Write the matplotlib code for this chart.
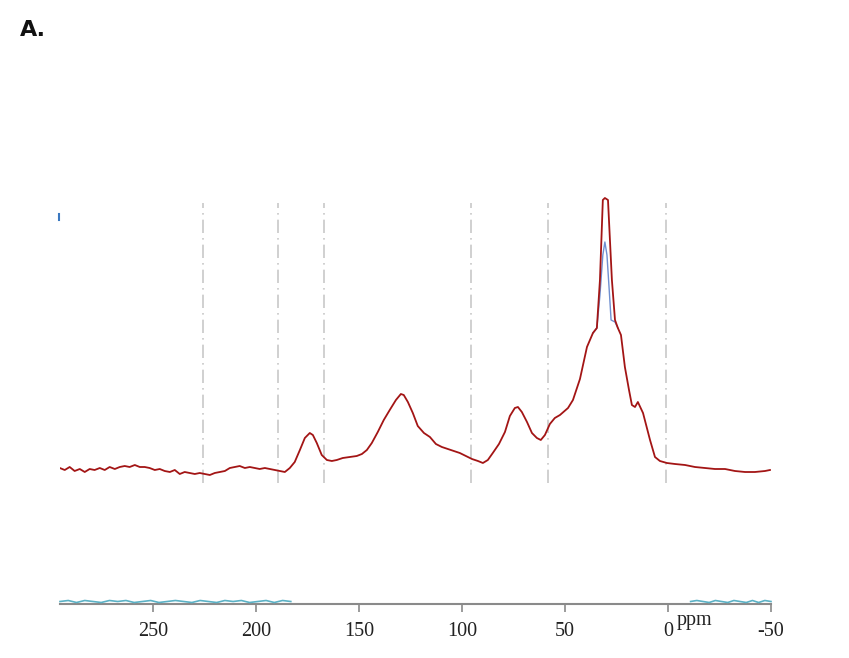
import matplotlib
matplotlib.use("Agg")
import matplotlib.pyplot as plt

# ---- data ----
ppm = [295.1, 292.7, 290.3, 287.9, 285.4, 283.0, 280.6, 278.2, 275.7, 273.3,
       270.9, 268.4, 266.0, 263.6, 261.2, 258.7, 256.3, 253.9, 251.5, 249.0,
       246.6, 244.2, 241.7, 239.3, 236.9, 234.5, 232.0, 229.6, 227.2, 224.8,
       222.3, 219.9, 217.5, 215.0, 212.6, 210.2, 207.8, 205.3, 202.9, 200.5,
       198.1, 195.6, 193.2, 190.8, 188.3, 185.9, 183.5, 181.1, 178.6, 176.2,
       173.8, 172.3, 170.4, 168.0, 165.5, 163.1, 160.7, 157.8, 154.4, 151.0,
       148.5, 146.1, 143.7, 140.8, 137.9, 135.0, 132.0, 129.6, 128.2, 126.2,
       123.8, 121.4, 118.4, 115.5, 112.6, 109.7, 106.8, 103.9, 101.0, 98.1,
       95.1, 92.2, 89.8, 87.4, 85.0, 82.0, 79.1, 76.7, 74.3, 72.8,
       70.9, 68.4, 66.0, 63.6, 61.7, 59.7, 57.3, 54.9, 52.4, 48.5,
       46.1, 42.7, 39.3, 36.4, 34.5, 33.0, 31.6, 30.6, 29.1, 27.2,
       25.7, 24.3, 22.8, 20.9, 18.9, 17.5, 16.0, 14.6, 12.1, 8.7,
       6.3, 3.9, 0.5, -3.4, -8.3, -13.1, -18.0, -22.8, -27.7, -32.5,
       -37.4, -42.2, -47.1, -49.5]
intensity = [2, 0, 3, -1, 1, -2, 1, 0, 2, 0,
             3, 1, 3, 4, 3, 5, 3, 3, 2, 0,
             1, -1, -2, 0, -4, -2, -3, -4, -3, -4,
             -5, -3, -2, -1, 2, 3, 4, 2, 3, 2,
             1, 2, 1, 0, -1, -2, 2, 8, 20, 32,
             37, 35, 27, 15, 10, 9, 10, 12, 13, 14,
             16, 20, 27, 38, 50, 60, 70, 76, 75, 68,
             57, 44, 37, 33, 26, 23, 21, 19, 17, 14,
             11, 9, 7, 10, 17, 26, 38, 54, 62, 63,
             58, 48, 37, 32, 30, 35, 46, 52, 55, 62,
             70, 91, 123, 137, 142, 190, 270, 272, 270, 190,
             150, 142, 135, 103, 80, 65, 63, 68, 57, 30,
             13, 9, 7, 6, 5, 3, 2, 1, 1, -1,
             -2, -2, -1, 0]

fit_ppm = [36.4, 34.5, 33.0, 31.6, 30.6, 29.6, 28.5, 27.6, 25.7, 24.3]
fit_int = [137, 142, 175, 215, 228, 215, 180, 150, 148, 142]

resid_left_ppm = [295, 291, 287, 283, 279, 275, 271, 267, 263, 259, 255, 251, 247, 243,
                  239, 235, 231, 227, 223, 219, 215, 211, 207, 203, 199, 195, 191, 187, 183]
resid_left = [0, 1, -1, 1, 0, -1, 1, 0, 1, -1, 0, 1, -1, 0, 1, 0, -1, 1, 0, -1,
              1, 0, 1, -1, 0, 1, -1, 1, 0]
resid_right_ppm = [-11, -14, -17, -20, -23, -26, -29, -32, -35, -38, -41, -44, -47, -50]
resid_right = [0, 1, 0, -1, 1, 0, -1, 1, 0, -1, 1, -1, 1, 0]
resid_offset = -131.5

region_lines = [225.7, 189.3, 167.0, 95.6, 58.3, 1.0]
tick_vals = [250, 200, 150, 100, 50, 0, -50]
tick_labels = ["250", "200", "150", "100", "50", "0", "-50"]

# ---- figure ----
fig = plt.figure(figsize=(8.49, 6.58), dpi=100)
ax = fig.add_axes([60 / 849, 54 / 658, 711 / 849, 414 / 658])
ax.set_xlim(295, -50)
ax.set_ylim(-134, 280)

for v in region_lines:
    ax.plot([v, v], [-13, 267], color="#c8c8c8", lw=1.2, ls=(0, (8, 3, 1, 3)), zorder=1)

ax.plot(fit_ppm, fit_int, color="#6f8fd0", lw=1.0, zorder=2)
ax.plot(ppm, intensity, color="#a31515", lw=1.3, zorder=3)
ax.plot([295.5, 295.5], [250, 256], color="#3a78c0", lw=1.5, clip_on=False)

ax.plot(resid_left_ppm, [resid_offset + r for r in resid_left], color="#5bb1c5", lw=1.2,
        zorder=4, clip_on=False)
ax.plot(resid_right_ppm, [resid_offset + r for r in resid_right], color="#5bb1c5", lw=1.2,
        zorder=4, clip_on=False)

for s in ["top", "left", "right"]:
    ax.spines[s].set_visible(False)
ax.spines["bottom"].set_color("#8a8a8a")
ax.spines["bottom"].set_linewidth(1.5)
ax.set_yticks([])
ax.set_xticks(tick_vals)
ax.set_xticklabels(tick_labels, family="Liberation Serif", fontsize=14.5, color="#222222")
ax.tick_params(axis="x", direction="out", length=6, width=1.2, color="#8a8a8a", pad=7)

ax.text(-4, -151, "ppm", family="Liberation Serif", fontsize=14.5, color="#222222",
        ha="left", va="center")

fig.text(20 / 849, 1 - 30 / 658, "A.", family="DejaVu Sans", fontsize=16,
         fontweight="bold", color="#111111", ha="left", va="center")

fig.savefig("out.png", dpi=100, facecolor="white")
